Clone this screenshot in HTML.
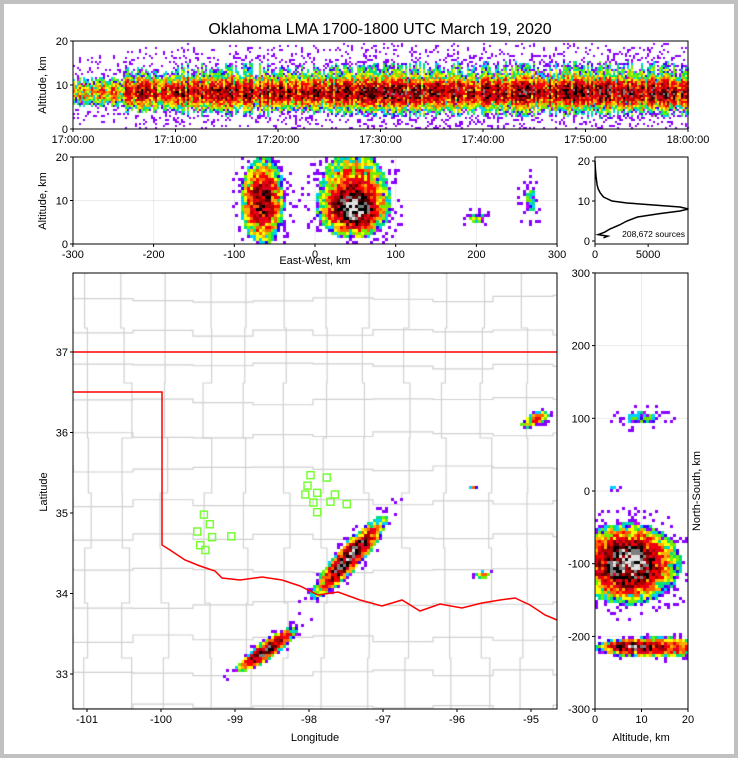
<!DOCTYPE html>
<html><head><meta charset="utf-8">
<style>
html,body{margin:0;padding:0;background:#c0c0c0;}
#frame{position:absolute;left:4px;top:4px;width:730px;height:750px;background:#fff;}
svg{position:absolute;left:0;top:0;font-family:"Liberation Sans",sans-serif;}
canvas{position:absolute;left:0;top:0;}
</style></head>
<body>
<div id="frame"></div>
<canvas id="cv" width="738" height="758"></canvas>
<svg id="sv" width="738" height="758"></svg>
<script>
// ---------- data ----------
const timeTicks = ["17:00:00","17:10:00","17:20:00","17:30:00","17:40:00","17:50:00","18:00:00"];
const altTicks = [0,10,20];
const ewTicks = [-300,-200,-100,0,100,200,300];
const nsTicks = [-300,-200,-100,0,100,200,300];
const lonTicks = [-101,-100,-99,-98,-97,-96,-95];
const latTicks = [33,34,35,36,37];
const histTicks = [0,5000];
const histAlt =   [0.8,1.2,1.6,2.2,3,4,5,6,6.8,7.5,8,8.5,9,9.5,10,11,12,13,14,16,18,20];
const histCount = [800,1200,300,900,1400,2300,3000,4000,6000,8000,8800,8000,5500,3000,1600,800,500,300,200,100,40,0];
const activity = [0.25,0.6,0.8,0.85,0.8,0.85,0.9,0.9,0.95,1,1,0.95];
const mapLon = [-97.45,-98.57,-94.95,-95.78,-95.65];
const mapLat = [34.45,33.30,36.16,35.32,34.23];
const mapLen = [27,19,11,3,6];
const mapWid = [6,4.5,4.5,2,3];
const mapAng = [48,35,25,0,0];
const mapW   = [1,0.8,0.15,0.08,0.1];
const ewX = [-65,48,48,200,268];
const ewZ = [10,8,13,6,10];
const ewSX = [15,21,26,13,11];
const ewSZ = [5.5,3.2,5.5,1.3,4.5];
const ewW = [0.5,1,0.2,0.04,0.03];
const nsA = [7,8,15,10,4];
const nsN = [-100,-215,-215,100,5];
const nsSA = [5.5,4,6,4.5,2];
const nsSN = [27,6,9,12,3];
const nsW = [1,0.7,0.2,0.035,0.025];
const staLon = [-97.98,-97.76,-98.02,-98.05,-97.89,-97.65,-97.94,-97.71,-97.49,-97.89,-99.42,-99.34,-99.51,-99.31,-99.05,-99.47,-99.40];
const staLat = [35.47,35.44,35.34,35.23,35.25,35.23,35.13,35.14,35.11,35.01,34.98,34.86,34.77,34.70,34.71,34.60,34.54];

// ---------- scales ----------
const P = {top:{x0:73,x1:688,y0:41,y1:129},mid:{x0:73,x1:557,y0:157,y1:244},hist:{x0:595,x1:688,y0:157,y1:244},map:{x0:73,x1:557,y0:273,y1:709},ns:{x0:595,x1:688,y0:273,y1:709}};
const tx = m => 73 + m*(615/60);
const az = a => 129 - a*4.4;
const ex = k => 315 + k*0.807;
const mz = a => 244 - a*4.35;
const hx = c => 595 + c*0.01063;
const hz = a => 241 - a*4.0;
const lx = lon => 87 + (lon+101)*74;
const ly = lat => 352 - (lat-37)*80.5;
const nx = a => 595 + a*4.65;
const ny = n => 491 - n*0.727;

const cols = ['#c0f','#80f','#30f','#00d0ff','#00e080','#70f000','#ffff00','#ffb000','#ff6000','#ff0000','#e00020','#b00000','#600000','#000000','#808080','#e0e0e0'];
function hash(i,j,s){let h=(i*374761393+j*668265263+s*2147483647)|0;h=(h^(h>>>13))*1274126177|0;return ((h^(h>>>16))>>>0)/4294967296;}
const cv=document.getElementById('cv');const ctx=cv.getContext('2d');
function colorFor(v){ if(v<=0.004) return null; let l=Math.floor((Math.log10(v)+2.3)/2.3*16); if(l<0) return null; if(l>15)l=15; return cols[l];}
function drawField(r,cell,f,seed,gain){
  for(let y=r.y0;y<r.y1;y+=cell)for(let x=r.x0;x<r.x1;x+=cell){
    const d=f(x+cell/2,y+cell/2)*gain;
    const n=hash(x,y,seed);
    let v=d*(0.3+1.4*n);
    if(d<0.015){ if(d>0.002 && n>0.8) v=0.007; else v=0; }
    const c=colorFor(v); if(!c) continue;
    ctx.fillStyle=c; ctx.fillRect(x,y,cell,cell);
  }
}
function blob(u,v){const r2=u*u+v*v;return Math.exp(-r2)+0.05*Math.exp(-r2/3);}
// top
drawField(P.top,2,(x,y)=>{
  const m=(x-73)/(615/60); const a=(129-y)/4.4;
  const act=activity[Math.min(11,Math.floor(m/5))]*(0.3+1.0*hash(Math.floor(x/2),7,3));
  const core=Math.exp(-Math.pow((a-8.3)/2.2,2));
  const tail=0.12*Math.exp(-Math.pow((a-9)/6,2));
  return act*(core+tail);
},11,0.32);
// mid
drawField(P.mid,3,(x,y)=>{let s=0;for(let i=0;i<ewX.length;i++){s+=ewW[i]*blob((x-ex(ewX[i]))/(ewSX[i]*0.807),(y-mz(ewZ[i]))/(ewSZ[i]*4.35));}return s;},5,0.65);
// ns
drawField(P.ns,3,(x,y)=>{let s=0;for(let i=0;i<nsA.length;i++){s+=nsW[i]*blob((x-nx(nsA[i]))/(nsSA[i]*4.65),(y-ny(nsN[i]))/(nsSN[i]*0.727));}return s;},9,0.65);
// map counties
ctx.save();ctx.beginPath();ctx.rect(73,273,484,436);ctx.clip();
ctx.strokeStyle='#d0d0d0';ctx.lineWidth=1.2;
for(let gx=80;gx<557;gx+=40){ctx.beginPath();let x=gx+hash(gx,1,2)*10;ctx.moveTo(x,273);for(let gy=273;gy<709;gy+=55){x=gx+hash(gx,gy,4)*12;ctx.lineTo(x,gy);ctx.lineTo(x,gy+55);}ctx.stroke();}
for(let gy=295;gy<709;gy+=34){ctx.beginPath();let y=gy;ctx.moveTo(73,y);for(let gx=73;gx<557;gx+=60){y=gy+hash(gx,gy,6)*8;ctx.lineTo(gx,y);ctx.lineTo(gx+60,y);}ctx.stroke();}
ctx.restore();
drawField(P.map,3,(x,y)=>{let s=0;for(let i=0;i<mapLon.length;i++){const cx=lx(mapLon[i]),cy=ly(mapLat[i]);const t=mapAng[i]*Math.PI/180;const dx=x-cx,dy=y-cy;s+=mapW[i]*blob((dx*Math.cos(t)-dy*Math.sin(t))/mapLen[i],(dx*Math.sin(t)+dy*Math.cos(t))/mapWid[i]);}return s;},13,0.6);

// ---------- svg ----------
const sv=document.getElementById('sv');const NS='http://www.w3.org/2000/svg';
function el(t,a,parent){const e=document.createElementNS(NS,t);for(const k in a)e.setAttribute(k,a[k]);(parent||sv).appendChild(e);return e;}
function txt(s,x,y,a){const e=el('text',Object.assign({x:x,y:y,'font-size':11,fill:'#000'},a||{}));e.textContent=s;return e;}
const t=txt('Oklahoma LMA 1700-1800 UTC March 19, 2020',380,34,{'font-size':16,'text-anchor':'middle'});

const border=[[162,545],[170,550],[185,560],[200,566],[215,571],[222,578],[240,580],[262,577],[282,580],[300,586],[318,595],[338,592],[360,600],[382,606],[402,600],[420,611],[440,604],[462,608],[482,603],[500,600],[515,598],[530,605],[545,615],[557,620]];
el('path',{d:'M73,352 L557,352 M73,392 L162,392 L162,545 '+border.map(p=>'L'+p[0]+','+p[1]).join(' '),fill:'none',stroke:'#f00','stroke-width':1.5,});
for(let i=0;i<staLon.length;i++){
  const r=el('rect',{x:lx(staLon[i])-3.5,y:ly(staLat[i])-3.5,width:7,height:7,fill:'none',stroke:'#7f3','stroke-width':1.5});
  
  
}
ewTicks.forEach(v=>el('line',{x1:ex(v),x2:ex(v),y1:157,y2:244,stroke:'#000','stroke-opacity':0.08}));
el('line',{x1:73,x2:557,y1:mz(10),y2:mz(10),stroke:'#000','stroke-opacity':0.08});
nsTicks.forEach(v=>el('line',{x1:595,x2:688,y1:ny(v),y2:ny(v),stroke:'#000','stroke-opacity':0.08}));
el('line',{x1:nx(10),x2:nx(10),y1:273,y2:709,stroke:'#000','stroke-opacity':0.08});
el('path',{d:histAlt.map((a,i)=>(i?'L':'M')+hx(histCount[i]).toFixed(1)+','+hz(a).toFixed(1)).join(' '),fill:'none',stroke:'#000','stroke-width':1.5,});
txt('208,672 sources',685,237,{'font-size':8.5,'text-anchor':'end',});
for(const k in P){const r=P[k];el('rect',{x:r.x0,y:r.y0,width:r.x1-r.x0,height:r.y1-r.y0,fill:'none',stroke:'#000','stroke-width':1,});}
function xt(vals,f,y,labels){vals.forEach((v,i)=>{const x=f(v);el('line',{x1:x,x2:x,y1:y,y2:y+3,stroke:'#000'});txt(labels?labels[i]:String(v),x,y+14,{'text-anchor':'middle'});});}
function yt(vals,f,x){vals.forEach(v=>{const y=f(v);el('line',{x1:x-3,x2:x,y1:y,y2:y,stroke:'#000'});txt(String(v),x-5,y+4,{'text-anchor':'end'});});}
xt(timeTicks.map((s,i)=>i*10),tx,129,timeTicks); yt(altTicks,az,73);
xt(ewTicks,ex,244); yt(altTicks,mz,73);
xt(histTicks,hx,244); yt(altTicks,hz,595);
xt(lonTicks,lx,709); yt(latTicks,ly,73);
xt([0,10,20],nx,709); yt(nsTicks,ny,595);
function lab(s,x,y,rot,name){const e=txt(s,x,y,{'text-anchor':'middle'});if(rot)e.setAttribute('transform','rotate(-90 '+x+' '+y+')');}
lab('Altitude, km',46,85,1,'top-y-axis-title');
lab('Altitude, km',46,201,1,'mid-y-axis-title');
lab('East-West, km',315,264,0,'mid-x-axis-title');
lab('Latitude',47,492,1,'map-y-axis-title');
lab('Longitude',315,741,0,'map-x-axis-title');
lab('Altitude, km',641,741,0,'ns-x-axis-title');
lab('North-South, km',700,491,1,'ns-y-axis-title');
</script>
</body></html>
